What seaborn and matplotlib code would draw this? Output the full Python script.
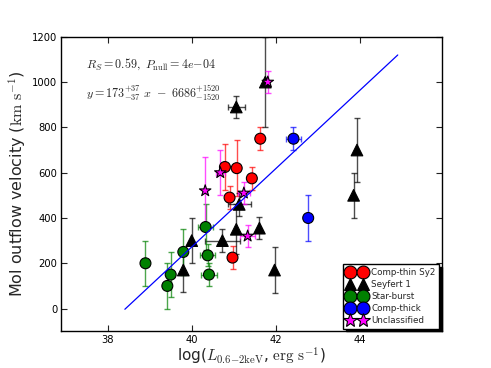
import numpy as np
import pandas as pd
import matplotlib
matplotlib.use("Agg")
import matplotlib.pyplot as plt
import seaborn as sns
from matplotlib.lines import Line2D

# ---------------- data ----------------
classes = ["Comp-thin Sy2", "Seyfert 1", "Star-burst", "Comp-thick", "Unclassified"]

red_x = [40.79, 41.07, 41.63, 41.43, 40.90, 40.97]
red_y = [625, 620, 750, 575, 490, 225]
red_yerr = [100, 125, 50, 50, 50, 50]
red_xerr = [0, 0, 0, 0, 0, 0]

black_x = [41.75, 41.06, 41.13, 41.06, 40.00, 39.80, 40.73, 41.61, 41.97, 43.93, 43.85]
black_y = [1000, 890, 460, 350, 300, 170, 300, 355, 170, 700, 500]
black_yerr = [200, 50, 50, 110, 100, 95, 50, 50, 100, 140, 100]
black_xerr = [0, 0.2, 0.27, 0, 0, 0, 0.42, 0, 0, 0, 0]

green_x = [38.90, 39.42, 39.50, 39.80, 40.33, 40.38, 40.41]
green_y = [200, 100, 150, 250, 360, 235, 150]
green_yerr = [100, 100, 100, 100, 100, 48, 50]
green_xerr = [0, 0, 0, 0, 0.17, 0.18, 0.2]

blue_x = [42.42, 42.77]
blue_y = [750, 400]
blue_yerr = [50, 100]
blue_xerr = [0.17, 0]

mag_x = [41.81, 40.68, 40.32, 41.24, 41.33]
mag_y = [1000, 600, 520, 510, 320]
mag_yerr = [50, 100, 150, 50, 50]
mag_xerr = [0, 0.11, 0, 0.15, 0.17]

fit_slope = 173
fit_intercept = -6648
fit_xrange = [38.41, 44.9]

x_ticks = [38, 40, 42, 44]
y_ticks = [0, 200, 400, 600, 800, 1000, 1200]

# ---------------- styling ----------------
colors = {"Comp-thin Sy2": "#ff0000", "Seyfert 1": "#000000", "Star-burst": "#008000",
          "Comp-thick": "#0000ff", "Unclassified": "#ff00ff"}
markers = {"Comp-thin Sy2": "o", "Seyfert 1": "^", "Star-burst": "o",
           "Comp-thick": "o", "Unclassified": "*"}
sizes = {"Comp-thin Sy2": 62, "Seyfert 1": 70, "Star-burst": 62,
         "Comp-thick": 62, "Unclassified": 75}

groups = [
    ("Comp-thin Sy2", red_x, red_y, red_xerr, red_yerr),
    ("Seyfert 1", black_x, black_y, black_xerr, black_yerr),
    ("Star-burst", green_x, green_y, green_xerr, green_yerr),
    ("Comp-thick", blue_x, blue_y, blue_xerr, blue_yerr),
    ("Unclassified", mag_x, mag_y, mag_xerr, mag_yerr),
]
rows = []
for cls, xs, ys, xe, ye in groups:
    for a, b, c, d in zip(xs, ys, xe, ye):
        rows.append(dict(x=a, y=b, xerr=c, yerr=d, cls=cls))
df = pd.DataFrame(rows)

sns.set_style("ticks")
plt.rcParams['font.family'] = ['DejaVu Sans']
plt.rcParams['mathtext.fontset'] = 'cm'
plt.rcParams['mathtext.rm'] = 'serif'

fig = plt.figure(figsize=(4.91, 3.68), dpi=100)
ax = fig.add_axes([0.125, 0.1, 0.775, 0.8])

# error bars
for cls in classes:
    sub = df[df.cls == cls]
    ax.errorbar(sub.x, sub.y, yerr=sub.yerr, fmt='none', ecolor=colors[cls], alpha=0.7,
                elinewidth=1.0, capsize=2, capthick=1.0, zorder=1)
    sx = sub[sub.xerr > 0]
    if len(sx):
        ax.errorbar(sx.x, sx.y, xerr=sx.xerr, fmt='none', ecolor=colors[cls], alpha=0.7,
                    elinewidth=1.0, capsize=2, capthick=1.0, zorder=1)

sns.scatterplot(data=df, x='x', y='y', hue='cls', style='cls', size='cls',
                hue_order=classes, style_order=classes, size_order=classes,
                palette=colors, markers=markers, sizes=sizes,
                edgecolor='k', linewidth=0.8, legend=False, ax=ax, zorder=3)

fx = np.array(fit_xrange)
sns.lineplot(x=fx, y=fit_slope * fx + fit_intercept, color='#0000ff', lw=0.9, ax=ax, zorder=4)

ax.set_xlim(36.9, 45.95)
ax.set_ylim(-100, 1200)
ax.set_xticks(x_ticks)
ax.set_yticks(y_ticks)
ax.tick_params(direction='in', top=True, right=True, length=4, width=0.8, labelsize=7.2,
               colors='#222222', labelcolor='black', pad=3)
for s in ax.spines.values():
    s.set_linewidth(1.0)
    s.set_color('black')

ax.set_xlabel(r'log($L_{0.6\mathrm{-2keV}}$, $\mathrm{erg\ s^{-1}}$)', fontsize=11, labelpad=0)
ax.set_ylabel(r'Mol outflow velocity ($\mathrm{km\ s^{-1}}$)', fontsize=11.5, labelpad=3)

ax.text(0.065, 0.905, r'$R_S=0.59,\ P_{\rm null}=4e{-}04$', transform=ax.transAxes,
        fontsize=8.7, va='center', ha='left')
ax.text(0.065, 0.81, r'$y=173^{+37}_{-37}\ x\ -\ 6686^{+1520}_{-1520}$', transform=ax.transAxes,
        fontsize=8.7, va='center', ha='left')

handles = [Line2D([], [], marker=markers[c], linestyle='none', markerfacecolor=colors[c],
                  markeredgecolor='k', markeredgewidth=0.8,
                  markersize=9.3 if c != "Unclassified" else 10)
           for c in classes]
leg = ax.legend(handles, classes, loc='lower right', numpoints=2, fontsize=6.3,
                handlelength=2.1, handletextpad=0.7, borderpad=0.4, labelspacing=0.35,
                borderaxespad=0.3, fancybox=False, shadow={'color': 'k', 'alpha': 1.0},
                frameon=True)
leg.get_frame().set_edgecolor('k')
leg.get_frame().set_linewidth(1.0)

fig.savefig("out.png", dpi=100)
